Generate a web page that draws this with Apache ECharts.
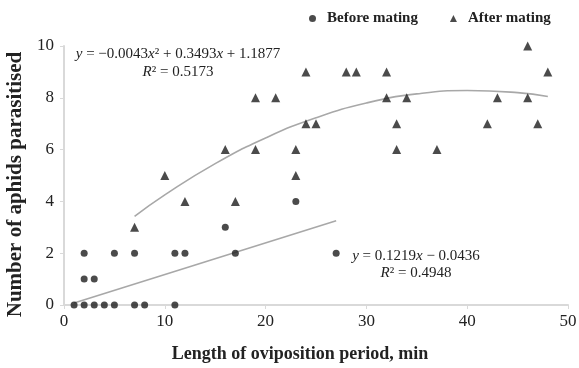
<!DOCTYPE html>
<html>
<head>
<meta charset="utf-8">
<script src="https://cdn.jsdelivr.net/npm/echarts@6/dist/echarts.min.js"></script>
<style>html,body{margin:0;padding:0;background:#fff}#c{width:579px;height:368px}</style>
</head>
<body>
<div id="c"></div>
<script>
// Before mating: [length (min), aphids parasitised]
const beforeX = [1,2,3,4,5,7,8,11, 2,3, 2,5,7,11,12,17, 16, 23, 27];
const beforeY = [0,0,0,0,0,0,0,0, 1,1, 2,2,2,2,2,2, 3, 4, 2];
// After mating
const afterX = [7,10,12,16,17,19,19,21,23,23,24,24,25,28,29,32,32,33,33,34,37,42,43,46,46,47,48];
const afterY = [3,5,4,6,4,6,8,8,5,6,7,9,7,9,9,9,8,7,6,8,6,7,8,10,8,7,9];
// Trendlines
const quadX = [7,10,15,20,25,30,35,40,45,48];
const quadY = [3.42,4.25,5.46,6.45,7.23,7.80,8.15,8.28,8.20,8.05];
const linX = [1,27];
const linY = [0.08,3.25];

const zip = (a,b)=>a.map((v,i)=>[v,b[i]]);
const serif = '"Liberation Serif","Times New Roman",serif';
const chart = echarts.init(document.getElementById('c'));
const rich = {
  i:{fontFamily:serif,fontStyle:'italic',fontSize:15,color:'#222'},
  n:{fontFamily:serif,fontSize:15,color:'#222'}
};
function txt(cx,cy,s){
  return {type:'text',x:cx,y:cy,style:{text:s,rich:rich,align:'center',verticalAlign:'middle',
    font:'15px '+serif,fill:'#222'},z:10};
}
chart.setOption({
  animation:false,
  backgroundColor:'#fff',
  grid:{left:64,right:11,top:46,bottom:63,containLabel:false,outerBoundsMode:'none'},
  legend:{
    top:6,left:304,itemGap:32,itemWidth:7,itemHeight:7,
    textStyle:{fontFamily:serif,fontWeight:'bold',fontSize:15,color:'#222',padding:[0,0,0,6]},
    data:[{name:'Before mating',icon:'circle'},{name:'After mating',icon:'triangle'}]
  },
  xAxis:{
    type:'value',min:0,max:50,interval:10,
    name:'Length of oviposition period, min',nameLocation:'middle',nameGap:40,
    nameTextStyle:{fontFamily:serif,fontWeight:'bold',fontSize:18,color:'#222',padding:[0,32,0,0]},
    axisLine:{lineStyle:{color:'#d9d9d9',width:2}},
    axisTick:{show:true,length:4,lineStyle:{color:'#d9d9d9'}},
    axisLabel:{fontFamily:serif,fontSize:17,color:'#222',margin:8},
    splitLine:{show:false}
  },
  yAxis:{
    type:'value',min:0,max:10,interval:2,
    name:'Number of aphids parasitised',nameLocation:'middle',nameGap:37,
    nameTextStyle:{fontFamily:serif,fontWeight:'bold',fontSize:21,color:'#222',padding:[0,18,0,0]},
    axisLine:{show:true,lineStyle:{color:'#d9d9d9',width:2}},
    axisTick:{show:true,length:4,lineStyle:{color:'#d9d9d9'}},
    axisLabel:{fontFamily:serif,fontSize:17,color:'#222',margin:10},
    splitLine:{show:false}
  },
  series:[
    {name:'quad',type:'line',data:zip(quadX,quadY),smooth:true,symbol:'none',
     lineStyle:{color:'#a8a8a8',width:1.6},z:1,silent:true},
    {name:'lin',type:'line',data:zip(linX,linY),symbol:'none',
     lineStyle:{color:'#a8a8a8',width:1.6},z:1,silent:true},
    {name:'Before mating',type:'scatter',data:zip(beforeX,beforeY),symbol:'circle',symbolSize:7,
     itemStyle:{color:'#1e1e1e'},z:3},
    {name:'After mating',type:'scatter',data:zip(afterX,afterY),symbol:'triangle',symbolSize:9,
     itemStyle:{color:'#1e1e1e'},z:3}
  ],
  graphic:[
    txt(178,54,'{i|y}{n| = −0.0043}{i|x}{n|² + 0.3493}{i|x}{n| + 1.1877}'),
    txt(178,72,'{i|R}{n|² = 0.5173}'),
    txt(416,256,'{i|y}{n| = 0.1219}{i|x}{n| − 0.0436}'),
    txt(416,273,'{i|R}{n|² = 0.4948}')
  ]
});
</script>
</body>
</html>
